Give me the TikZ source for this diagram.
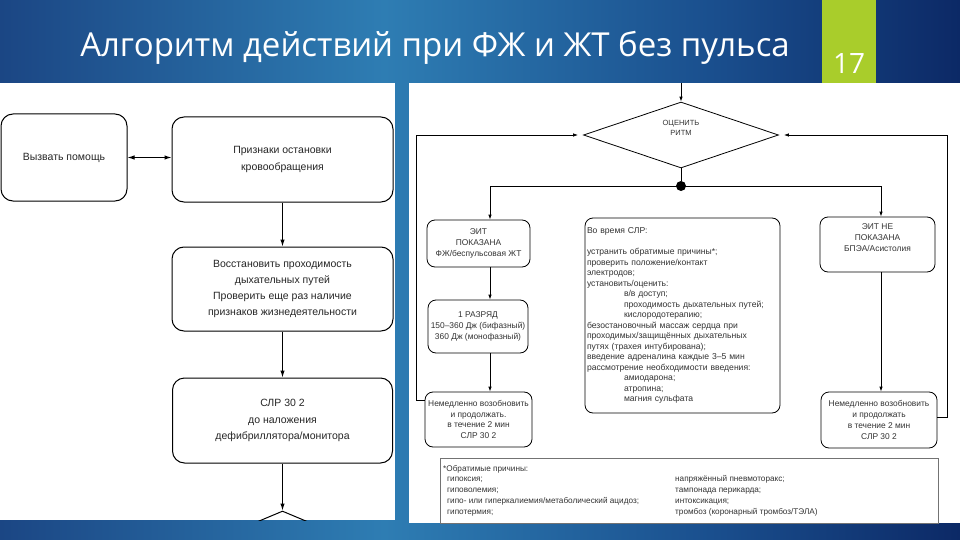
\documentclass[tikz,border=0pt]{standalone}
\usepackage{fontspec}
\setmainfont{Liberation Sans}
\newfontfamily\titlefont{Open Sans}
\usetikzlibrary{arrows.meta,shapes.geometric,calc}
\definecolor{bgA}{HTML}{1B4684}
\definecolor{bgB}{HTML}{2E7DB3}
\definecolor{bgC}{HTML}{1A4F8E}
\definecolor{bgD}{HTML}{0C2966}
\definecolor{accent}{HTML}{A9CD2B}
\pgfdeclarehorizontalshading{bgshade}{100bp}{color(0bp)=(bgA); color(25bp)=(bgA); color(45bp)=(bgB); color(62bp)=(bgC); color(75bp)=(bgD); color(100bp)=(bgD)}
\begin{document}
\begin{tikzpicture}[x=1pt,y=-1pt,
  bigbox/.style={draw=black, line width=1pt, rounded corners=12pt, align=center, inner sep=2pt, font=\fontsize{10.5}{16.3}\selectfont, text=black!85},
  smallbox/.style={draw=black, line width=0.8pt, rounded corners=8pt, align=center, inner sep=1pt, font=\fontsize{8.4}{10.8}\selectfont, text=black!80},
  bigarrow/.style={line width=1pt, -{Latex[length=7pt,width=4.5pt]}},
  smallarrow/.style={line width=0.8pt, -{Latex[length=5pt,width=3.5pt]}},
  flow/.style={line width=0.8pt},
  foot/.style={inner sep=0, align=left, font=\fontsize{8.2}{10.8}\selectfont, text=black!80}]
\useasboundingbox (0,0) rectangle (960,540);
\shade[shading=bgshade] (0,0) rectangle (960,540);
\fill[white] (0,83) rectangle (395,520);
\fill[white] (409,83) rectangle (960,523);
\fill[accent] (822,0) rectangle (876,83);
\node[anchor=base, text=white, inner sep=0, font=\titlefont\fontsize{33}{38}\selectfont] (title) at (435,57) {Алгоритм действий при ФЖ и ЖТ без пульса};
\node[anchor=base, text=white, inner sep=0, font=\titlefont\fontsize{28}{32}\selectfont] (pagenum) at (849,74) {17};

% left panel
\node[bigbox, minimum width=126pt, minimum height=87pt] (help) at (64,157.5) {Вызвать помощь};
\node[bigbox, minimum width=221pt, minimum height=85pt] (signs) at (282.5,159.5) {Признаки остановки\\кровообращения};
\node[bigbox, minimum width=221pt, minimum height=84pt] (airway) at (282.5,289) {Восстановить проходимость\\дыхательных путей\\Проверить еще раз наличие\\признаков жизнедеятельности};
\node[bigbox, minimum width=220pt, minimum height=85pt] (cpr) at (282.5,420.5) {СЛР 30 2\\до наложения\\дефибриллятора/монитора};
\begin{scope}
\clip (0,83) rectangle (395,520);
\node[draw, diamond, line width=1pt, minimum width=190pt, minimum height=80pt, inner sep=0] (rhythmL) at (282.5,551) {};
\end{scope}
\draw[line width=1pt, {Latex[length=7pt,width=4.5pt]}-{Latex[length=7pt,width=4.5pt]}] (help.east) -- (help.east -| signs.west);
\draw[bigarrow] (signs.south) -- (airway.north);
\draw[bigarrow] (airway.south) -- (cpr.north);
\draw[bigarrow] (cpr.south) -- (rhythmL.north);

% right panel
\coordinate (topin) at (681,83);
\node[draw, diamond, flow, minimum width=195pt, minimum height=58pt, inner sep=0, align=center, font=\fontsize{7.5}{10}\selectfont, text=black!80] (rhythm) at (681,135) {ОЦЕНИТЬ\\РИТМ\\[4pt]};
\node[circle, fill=black, minimum size=10pt, inner sep=0] (dot) at (681,186) {};
\coordinate (colL) at (490,186);
\coordinate (colR) at (881,186);
\node[smallbox, minimum width=103pt, minimum height=47pt] (eit) at (478.5,243.5) {ЭИТ\\ПОКАЗАНА\\ФЖ/беспульсовая ЖТ};
\node[smallbox, minimum width=100pt, minimum height=53pt] (shock) at (478,326.5) {1 РАЗРЯД\\150–360 Дж (бифазный)\\360 Дж (монофазный)};
\node[smallbox, minimum width=107pt, minimum height=55pt] (resumeL) at (478.5,419.5) {Немедленно возобновить\\и продолжать.\\в течение 2 мин\\СЛР 30 2};
\node[smallbox, minimum width=115pt, minimum height=55pt] (noeit) at (877.5,244.5) {ЭИТ НЕ\\ПОКАЗАНА\\БПЭА/Асистолия\\[3pt]};
\node[smallbox, minimum width=116pt, minimum height=56pt] (resumeR) at (879,420) {Немедленно возобновить\\и продолжать\\в течение 2 мин\\СЛР 30 2};
\node[smallbox, align=left, minimum width=195pt, minimum height=195pt, text width=191pt, font=\fontsize{8.6}{10.5}\selectfont] (during) at (682.5,315.5) {Во время СЛР:\\[10.5pt]
устранить обратимые причины*;\\
проверить положение/контакт\\
электродов;\\
установить/оценить:\\
\hspace*{37pt}в/в доступ;\\
\hspace*{37pt}проходимость дыхательных путей;\\
\hspace*{37pt}кислородотерапию;\\
безостановочный массаж сердца при\\
проходимых/защищённых дыхательных\\
путях (трахея интубирована);\\
введение адреналина каждые 3–5 мин\\
рассмотрение необходимости введения:\\
\hspace*{37pt}амиодарона;\\
\hspace*{37pt}атропина;\\
\hspace*{37pt}магния сульфата};
\draw[smallarrow] (topin) -- (rhythm.north);
\draw[flow] (rhythm.south) -- (dot);
\draw[flow] (colL) -- (colR);
\draw[smallarrow] (colL) -- (colL |- eit.north);
\draw[smallarrow] (colL |- eit.south) -- (colL |- shock.north);
\draw[smallarrow] (colL |- shock.south) -- (colL |- resumeL.north);
\draw[smallarrow] (colR) -- (colR |- noeit.north);
\draw[smallarrow] (colR |- noeit.south) -- (colR |- resumeR.north);
\coordinate (loopL) at (416,400);
\draw[smallarrow, shorten >=5pt] (resumeL.west |- loopL) -- (loopL) |- (rhythm.west);
\coordinate (loopR) at (947,417);
\draw[smallarrow, shorten >=5pt] (resumeR.east |- loopR) -- (loopR) |- (rhythm.east);

% footer
\node[draw=black!55, line width=0.6pt, minimum width=498pt, minimum height=65pt, inner sep=0] (causes) at (689,490.5) {};
\node[foot, anchor=north west] (causesHead) at (443,463.5) {\strut*Обратимые причины:};
\node[foot, anchor=north west] (causesA) at (447,474) {\strut гипоксия;\\гиповолемия;\\гипо- или гиперкалиемия/метаболический ацидоз;\\гипотермия;};
\node[foot, anchor=north west] (causesB) at (675,474) {\strut напряжённый пневмоторакс;\\тампонада перикарда;\\интоксикация;\\тромбоз (коронарный тромбоз/ТЭЛА)};
\end{tikzpicture}
\end{document}
